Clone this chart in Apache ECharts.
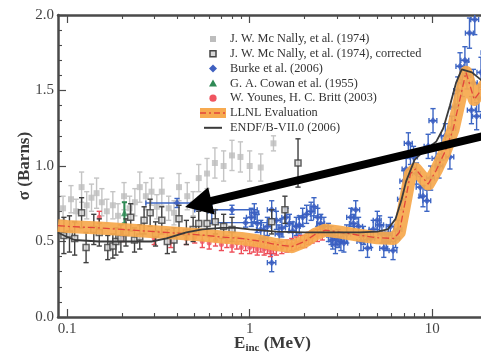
<!DOCTYPE html>
<html>
<head>
<meta charset="utf-8">
<script src="https://cdn.jsdelivr.net/npm/echarts@6/dist/echarts.min.js"></script>
<style>
  html, body { margin: 0; padding: 0; background: #fff; }
  #chart { width: 481px; height: 354px; }
</style>
</head>
<body>
<div id="chart"></div>
<script>
// ---- Data: incident energy (MeV), cross section (barns), errors (barns) ----
// J. W. Mc Nally, et al. (1974): [E, sigma, dSigma]
const mcnally1974 = [
  [0.095,0.72,0.08],[0.105,0.78,0.09],[0.112,0.70,0.08],[0.12,0.86,0.10],[0.128,0.74,0.09],
  [0.136,0.79,0.09],[0.145,0.82,0.10],[0.155,0.76,0.09],[0.165,0.70,0.08],[0.178,0.74,0.09],
  [0.19,0.67,0.08],[0.205,0.80,0.09],[0.22,0.72,0.08],[0.235,0.76,0.09],[0.25,0.86,0.10],
  [0.27,0.80,0.09],[0.29,0.83,0.09],[0.31,0.73,0.08],[0.33,0.83,0.09],[0.36,0.72,0.08],
  [0.385,0.69,0.08],[0.41,0.86,0.09],[0.455,0.80,0.09],[0.49,0.75,0.08],[0.526,0.92,0.09],
  [0.584,0.95,0.10],[0.645,1.02,0.10],[0.72,1.00,0.10],[0.80,1.07,0.10],[0.89,1.06,0.10],
  [1.0,1.00,0.10],[1.15,0.99,0.09],[1.35,1.15,0.05]
];
// J. W. Mc Nally, et al. (1974), corrected: [E, sigma, dSigma]
const mcnallyCorrected = [
  [0.096,0.54,0.12],[0.103,0.55,0.12],[0.11,0.52,0.11],[0.12,0.69,0.10],[0.127,0.46,0.10],
  [0.14,0.58,0.10],[0.15,0.56,0.09],[0.167,0.46,0.08],[0.178,0.47,0.08],[0.185,0.50,0.09],
  [0.197,0.52,0.09],[0.21,0.56,0.09],[0.223,0.66,0.09],[0.234,0.51,0.08],[0.25,0.53,0.08],
  [0.264,0.64,0.09],[0.285,0.69,0.09],[0.305,0.55,0.08],[0.33,0.64,0.09],[0.354,0.50,0.08],
  [0.385,0.51,0.08],[0.41,0.65,0.09],[0.45,0.56,0.08],[0.49,0.58,0.08],[0.526,0.62,0.08],
  [0.584,0.62,0.08],[0.648,0.63,0.08],[0.72,0.60,0.08],[0.80,0.58,0.08],[1.32,0.63,0.08],
  [1.56,0.71,0.09],[1.84,1.02,0.16]
];
// Burke et al. (2006): [E, sigma, dSigma, dE]
const burke2006 = [
  [0.40,0.755,0.03,0.13],[0.80,0.71,0.03,0.30],[0.95,0.625,0.03,0.30],[0.62,0.70,0.08,0.03],
  [1.02,0.66,0.06,0.06],[1.06,0.69,0.06,0.06],[1.10,0.62,0.06,0.06],[1.15,0.58,0.06,0.06],
  [1.20,0.52,0.06,0.06],[1.25,0.60,0.06,0.06],[1.32,0.71,0.06,0.07],[1.32,0.36,0.06,0.07],
  [1.40,0.64,0.06,0.07],[1.45,0.55,0.06,0.07],[1.50,0.59,0.06,0.07],[1.58,0.66,0.06,0.08],
  [1.65,0.62,0.06,0.08],[1.72,0.57,0.06,0.08],[1.80,0.60,0.06,0.09],[1.87,0.61,0.06,0.09],
  [1.95,0.66,0.06,0.10],[2.05,0.68,0.06,0.10],[2.17,0.70,0.06,0.11],[2.25,0.73,0.06,0.11],
  [2.36,0.66,0.06,0.12],[2.45,0.62,0.06,0.12],[2.55,0.60,0.06,0.13],[2.70,0.56,0.06,0.13],
  [2.79,0.54,0.06,0.14],[2.85,0.51,0.06,0.14],[2.95,0.48,0.06,0.15],[3.05,0.52,0.06,0.15],
  [3.16,0.50,0.06,0.16],[3.28,0.49,0.06,0.16],[3.40,0.55,0.06,0.17],[3.58,0.66,0.06,0.18],
  [3.70,0.62,0.06,0.18],[3.81,0.71,0.06,0.19],[3.95,0.60,0.06,0.20],[4.07,0.50,0.06,0.20],
  [4.20,0.54,0.06,0.21],[4.42,0.455,0.06,0.22],[4.60,0.52,0.06,0.23],[4.75,0.58,0.06,0.24],
  [5.00,0.64,0.06,0.25],[5.15,0.61,0.06,0.26],[5.30,0.55,0.06,0.26],[5.43,0.455,0.06,0.27],
  [5.60,0.50,0.06,0.28],[5.75,0.55,0.06,0.29],[5.90,0.60,0.06,0.30],[6.10,0.44,0.06,0.30],
  [6.30,0.52,0.06,0.31],[6.50,0.58,0.06,0.32],[6.80,0.78,0.07,0.34],[7.00,0.90,0.07,0.35],
  [7.20,0.98,0.07,0.36],[7.40,1.15,0.07,0.37],[7.60,1.08,0.07,0.38],[7.90,1.06,0.07,0.39],
  [8.20,0.95,0.07,0.41],[8.60,0.86,0.07,0.43],[8.90,0.80,0.07,0.44],[9.35,0.77,0.07,0.46],
  [9.50,1.13,0.08,0.47],[9.80,0.92,0.08,0.49],[10.1,1.30,0.08,0.50],[10.5,1.05,0.08,0.52],
  [10.9,1.00,0.08,0.54],[11.3,1.12,0.08,0.56],[11.8,1.20,0.08,0.59],[12.5,1.06,0.08,0.62],
  [12.8,1.25,0.08,0.64],[13.3,1.39,0.09,0.66],[13.8,1.50,0.09,0.69],[14.2,1.66,0.09,0.71],
  [14.6,1.55,0.09,0.73],[15.1,1.70,0.09,0.75],[15.5,1.60,0.09,0.77],[16.0,1.88,0.10,0.80],
  [16.4,1.37,0.09,0.82],[16.8,1.55,0.09,0.84],[17.1,1.97,0.10,0.85],[17.5,1.33,0.09,0.87],
  [18.0,1.45,0.09,0.90],[18.5,1.62,0.10,0.92],[19.5,1.75,0.10,0.97]
];
// G. A. Cowan et al. (1955): [E, sigma, dSigma]
const cowan1955 = [[0.206,0.69,0.07]];
// W. Younes, H. C. Britt (2003): [E, sigma, dSigma]
const younes2003 = [
  [0.15,0.66,0.04],[0.20,0.54,0.04],[0.30,0.52,0.04],[0.37,0.50,0.04],[0.45,0.52,0.04],
  [0.50,0.53,0.04],[0.55,0.50,0.04],[0.60,0.49,0.04],[0.65,0.51,0.04],[0.70,0.48,0.04],
  [0.75,0.50,0.04],[0.80,0.47,0.04],[0.85,0.49,0.04],[0.90,0.46,0.04],[0.95,0.48,0.04],
  [1.00,0.46,0.04],[1.05,0.47,0.04],[1.10,0.45,0.04],[1.15,0.47,0.04],[1.20,0.45,0.04],
  [1.25,0.46,0.04],[1.30,0.44,0.04],[1.35,0.46,0.04],[1.40,0.45,0.04],[1.50,0.46,0.04],
  [1.60,0.47,0.04],[1.70,0.48,0.04],[1.80,0.49,0.04],[1.90,0.50,0.04],[2.00,0.50,0.04],
  [2.10,0.52,0.04],[2.20,0.53,0.04],[2.35,0.54,0.04],[2.50,0.55,0.04]
];
// LLNL Evaluation (central curve): [E, sigma]
const llnlEval = [
  [0.089,0.605],[0.10,0.60],[0.15,0.59],[0.20,0.58],[0.30,0.565],[0.40,0.555],[0.55,0.543],
  [0.70,0.53],[0.90,0.52],[1.10,0.505],[1.40,0.48],[1.70,0.466],[2.00,0.50],[2.30,0.55],
  [2.60,0.575],[3.00,0.565],[3.90,0.543],[5.00,0.525],[6.15,0.52],[6.60,0.56],[7.00,0.72],
  [7.60,0.95],[8.10,0.98],[9.50,0.88],[10.5,0.97],[11.8,1.10],[13.0,1.24],[15.3,1.62],
  [17.0,1.44],[20.0,1.56]
];
// ENDF/B-VII.0 (2006): [E, sigma]
const endfB7 = [
  [0.089,0.56],[0.10,0.53],[0.11,0.51],[0.15,0.50],[0.20,0.50],[0.25,0.50],[0.29,0.50],
  [0.35,0.52],[0.45,0.56],[0.55,0.58],[0.70,0.59],[0.85,0.59],[1.00,0.58],[1.40,0.565],
  [2.00,0.56],[3.00,0.56],[4.00,0.56],[5.00,0.565],[5.70,0.58],[6.30,0.65],[6.80,0.78],
  [7.20,0.90],[8.00,1.04],[9.00,1.10],[10.5,1.16],[11.5,1.25],[12.5,1.40],[13.5,1.55],
  [14.5,1.64],[16.5,1.62],[18.5,1.57],[20.0,1.55]
];
// Axis ticks
const majorTickEnergies = [0.1, 1, 10];
const majorTickLabels = ['0.1', '1', '10'];
const minorTickEnergies = [0.2,0.3,0.4,0.5,0.6,0.7,0.8,0.9,2,3,4,5,6,7,8,9,20];
const legendNames = [
  'J. W. Mc Nally, et al. (1974)',
  'J. W. Mc Nally, et al. (1974), corrected',
  'Burke et al. (2006)',
  'G. A. Cowan et al. (1955)',
  'W. Younes, H. C. Britt (2003)',
  'LLNL Evaluation',
  'ENDF/B-VII.0 (2006)'
];
// Pointer annotation: from the upper right down to the low-energy data (E, sigma)
const pointerFrom = [20.0, 1.205];
const pointerTo = [0.443, 0.728];

// ---- Rendering ----
const lg = Math.log10;
const X_MIN = -1.05, X_MAX = 1.30;
const SERIF = '"Liberation Serif", "DejaVu Serif", serif';
const AXIS_COLOR = '#4a4a4a';

function errorBars(name, data, color, z, width) {
  return {
    type: 'custom', name: name + ' errors', z: z, clip: true,
    data: data.map(d => [lg(d[0]), d[1], d[2], d[3] || 0, d[0]]),
    encode: { x: 0, y: 1 },
    silent: true,
    renderItem(params, api) {
      const x = api.value(0), y = api.value(1), e = api.value(2);
      const dE = api.value(3), E = api.value(4);
      const st = { stroke: color, lineWidth: width || 1.4 };
      const top = api.coord([x, y + e]), bot = api.coord([x, y - e]);
      const c = 2.6;
      const kids = [
        { type: 'line', shape: { x1: top[0], y1: top[1], x2: bot[0], y2: bot[1] }, style: st },
        { type: 'line', shape: { x1: top[0] - c, y1: top[1], x2: top[0] + c, y2: top[1] }, style: st },
        { type: 'line', shape: { x1: bot[0] - c, y1: bot[1], x2: bot[0] + c, y2: bot[1] }, style: st }
      ];
      if (dE > 0) {
        const l = api.coord([lg(E - dE), y]), r = api.coord([lg(E + dE), y]);
        kids.push({ type: 'line', shape: { x1: l[0], y1: l[1], x2: r[0], y2: r[1] }, style: st });
        kids.push({ type: 'line', shape: { x1: l[0], y1: l[1] - c, x2: l[0], y2: l[1] + c }, style: st });
        kids.push({ type: 'line', shape: { x1: r[0], y1: r[1] - c, x2: r[0], y2: r[1] + c }, style: st });
      }
      return { type: 'group', children: kids };
    }
  };
}
function markers(name, data, symbol, size, itemStyle, z) {
  return {
    type: 'scatter', name: name, z: z, symbol: symbol, symbolSize: size,
    data: data.map(d => [lg(d[0]), d[1]]), itemStyle: itemStyle, silent: true
  };
}
function curve(data) { return data.map(d => [lg(d[0]), d[1]]); }

const xBase = {
  type: 'value', min: X_MIN, max: X_MAX, gridIndex: 0,
  splitLine: { show: false }
};
const xAxes = [
  Object.assign({}, xBase, {
    position: 'bottom',
    axisLine: { show: true, onZero: false, lineStyle: { color: AXIS_COLOR, width: 2.5 } },
    axisTick: { show: true, inside: true, length: 8, customValues: majorTickEnergies.map(lg),
                lineStyle: { color: AXIS_COLOR, width: 1.2 } },
    axisLabel: { show: true, customValues: majorTickEnergies.map(lg), margin: 5,
                 fontFamily: SERIF, fontSize: 15, color: '#444',
                 formatter: v => majorTickLabels[majorTickEnergies.findIndex(e => Math.abs(lg(e) - v) < 1e-6)] },
    name: '{e|E}{s|inc}{e| (MeV)}', nameLocation: 'middle', nameGap: 17, nameMoveOverlap: false,
    nameTextStyle: { rich: {
      e: { fontFamily: SERIF, fontSize: 17, fontWeight: 'bold', color: '#3a3a3a' },
      s: { fontFamily: SERIF, fontSize: 11, fontWeight: 'bold', color: '#3a3a3a', verticalAlign: 'bottom', padding: [9, 0, 0, 0] }
    } }
  }),
  Object.assign({}, xBase, {
    position: 'bottom',
    axisLine: { show: false, onZero: false },
    axisTick: { show: true, inside: true, length: 4, customValues: minorTickEnergies.map(lg),
                lineStyle: { color: AXIS_COLOR, width: 1.1 } },
    axisLabel: { show: false }
  }),
  Object.assign({}, xBase, {
    position: 'top',
    axisLine: { show: true, onZero: false, lineStyle: { color: AXIS_COLOR, width: 2.5 } },
    axisTick: { show: true, inside: true, length: 8, customValues: majorTickEnergies.map(lg),
                lineStyle: { color: AXIS_COLOR, width: 1.2 } },
    axisLabel: { show: false }
  }),
  Object.assign({}, xBase, {
    position: 'top',
    axisLine: { show: false, onZero: false },
    axisTick: { show: true, inside: true, length: 4, customValues: minorTickEnergies.map(lg),
                lineStyle: { color: AXIS_COLOR, width: 1.1 } },
    axisLabel: { show: false }
  })
];

// Legend drawn as graphic rows
const LEG_X = 213, LEG_TX = 230, LEG_Y0 = 39, LEG_DY = 14.8;
const legendIcons = [
  { type: 'rect', shape: { x: -3, y: -3, width: 6, height: 6 }, style: { fill: '#bdbdbd' } },
  { type: 'rect', shape: { x: -3, y: -3, width: 6, height: 6 }, style: { fill: '#d8d8d8', stroke: '#444', lineWidth: 1.5 } },
  { type: 'polygon', shape: { points: [[0,-4],[4,0],[0,4],[-4,0]] }, style: { fill: '#3f60c0' } },
  { type: 'polygon', shape: { points: [[0,-4],[4,3],[-4,3]] }, style: { fill: '#2f8a55' } },
  { type: 'circle', shape: { cx: 0, cy: 0, r: 3.6 }, style: { fill: '#f05560' } },
  null,
  { type: 'line', shape: { x1: -9, y1: 0, x2: 9, y2: 0 }, style: { stroke: '#3a3a3a', lineWidth: 2 } }
];
const graphics = [];
legendNames.forEach((name, i) => {
  const y = LEG_Y0 + i * LEG_DY;
  if (i === 5) {
    graphics.push({ type: 'rect', x: LEG_X, y: y, shape: { x: -13, y: -5, width: 26, height: 10 },
                    style: { fill: '#f7aa50' } });
    graphics.push({ type: 'line', x: LEG_X, y: y, shape: { x1: -13, y1: 0, x2: 13, y2: 0 },
                    style: { stroke: '#e2453a', lineWidth: 1.3, lineDash: [6, 3, 2, 3] } });
  } else {
    graphics.push(Object.assign({ x: LEG_X, y: y }, legendIcons[i]));
  }
  graphics.push({ type: 'text', x: LEG_TX, y: y,
    style: { text: name, font: '12.3px ' + SERIF, fill: '#333', verticalAlign: 'middle', textAlign: 'left' } });
});

// Thick pointer arrow placed in data coordinates
const pointerSeries = {
  type: 'custom', name: 'pointer', z: 20, silent: true, clip: false,
  data: [[lg(pointerFrom[0]), pointerFrom[1], lg(pointerTo[0]), pointerTo[1]]],
  encode: { x: [0, 2], y: [1, 3] },
  renderItem(params, api) {
    const p1 = api.coord([api.value(0), api.value(1)]);
    const p2 = api.coord([api.value(2), api.value(3)]);
    const dx = p2[0] - p1[0], dy = p2[1] - p1[1];
    const len = Math.sqrt(dx * dx + dy * dy);
    const ux = dx / len, uy = dy / len, nx = -uy, ny = ux;
    const headLen = 27, headHalf = 14;
    const bx = p2[0] - ux * headLen, by = p2[1] - uy * headLen;
    return { type: 'group', children: [
      { type: 'line', shape: { x1: p1[0], y1: p1[1], x2: bx + ux * 2, y2: by + uy * 2 },
        style: { stroke: '#000', lineWidth: 8 } },
      { type: 'polygon', shape: { points: [[p2[0], p2[1]], [bx + nx * headHalf, by + ny * headHalf], [bx - nx * headHalf, by - ny * headHalf]] },
        style: { fill: '#000' } }
    ] };
  }
};

const option = {
  animation: false,
  backgroundColor: '#ffffff',
  grid: { left: 58, right: -6, top: 15, bottom: 37, containLabel: false, outerBoundsMode: 'none' },
  xAxis: xAxes,
  yAxis: {
    type: 'value', min: 0, max: 2, interval: 0.5,
    axisLine: { show: true, onZero: false, lineStyle: { color: AXIS_COLOR, width: 2.5 } },
    axisTick: { show: true, inside: true, length: 8, lineStyle: { color: AXIS_COLOR, width: 1.2 } },
    minorTick: { show: true, splitNumber: 5, length: 4, lineStyle: { color: AXIS_COLOR, width: 1.1 } },
    splitLine: { show: false },
    axisLabel: { fontFamily: SERIF, fontSize: 15, color: '#444', margin: 4, formatter: v => v.toFixed(1) },
    name: 'σ (Barns)', nameLocation: 'middle', nameGap: 25, nameRotate: 90, nameMoveOverlap: false,
    nameTextStyle: { fontFamily: SERIF, fontSize: 17, fontWeight: 'bold', color: '#3a3a3a' }
  },
  graphic: graphics,
  series: [
    errorBars(legendNames[0], mcnally1974, '#c4c4c4', 2),
    markers(legendNames[0], mcnally1974, 'rect', 6, { color: '#bdbdbd' }, 3),
    errorBars(legendNames[2], burke2006, '#3d66c4', 4),
    markers(legendNames[2], burke2006, 'diamond', 7, { color: '#3a5cc0' }, 5),
    errorBars(legendNames[4], younes2003, '#ee4d58', 4),
    markers(legendNames[4], younes2003, 'circle', 5, { color: '#f05560' }, 5),
    errorBars(legendNames[3], cowan1955, '#2f8a55', 4, 2),
    markers(legendNames[3], cowan1955, 'triangle', 7, { color: '#2f8a55' }, 5),
    errorBars(legendNames[1], mcnallyCorrected, '#3f3f3f', 6),
    markers(legendNames[1], mcnallyCorrected, 'rect', 6, { color: '#d8d8d8', borderColor: '#3f3f3f', borderWidth: 1.5 }, 7),
    {
      type: 'line', name: legendNames[5] + ' band', z: 8, showSymbol: false, silent: true,
      data: curve(llnlEval),
      lineStyle: { color: '#f6a84c', width: 13, opacity: 0.92, cap: 'butt', join: 'round' }
    },
    {
      type: 'line', name: legendNames[5], z: 9, showSymbol: false, silent: true,
      data: curve(llnlEval),
      lineStyle: { color: '#e2453a', width: 1.3, type: [7, 3, 2, 3] }
    },
    {
      type: 'line', name: legendNames[6], z: 10, showSymbol: false, silent: true,
      data: curve(endfB7),
      lineStyle: { color: '#3a3a3a', width: 1.8 }
    },
    pointerSeries
  ]
};

const chart = echarts.init(document.getElementById('chart'), null, { renderer: 'canvas' });
chart.setOption(option);
</script>
</body>
</html>
